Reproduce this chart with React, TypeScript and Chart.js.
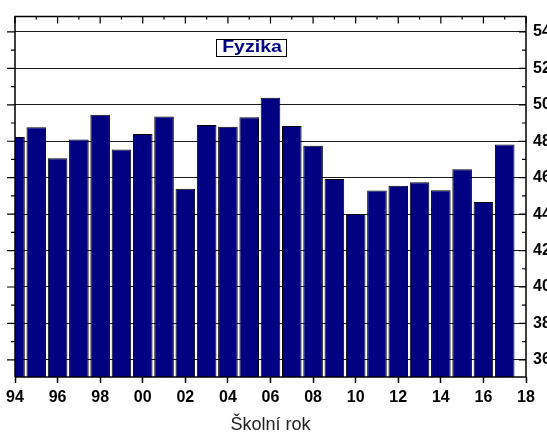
import React, { useEffect, useRef } from "react";
import { Chart, registerables } from "chart.js";

Chart.register(...registerables);

const years = [1994, 1995, 1996, 1997, 1998, 1999, 2000, 2001, 2002, 2003, 2004, 2005, 2006, 2007, 2008, 2009, 2010, 2011, 2012, 2013, 2014, 2015, 2016, 2017];
const values = [48.23, 48.77, 47.07, 48.09, 49.46, 47.54, 48.39, 49.36, 45.39, 48.89, 48.79, 49.32, 50.39, 48.84, 47.75, 45.93, 44.0, 45.29, 45.55, 45.75, 45.31, 46.46, 44.66, 47.82];
const xTickValues = [1994, 1996, 1998, 2000, 2002, 2004, 2006, 2008, 2010, 2012, 2014, 2016, 2018];
const xMinorTicks = [1995, 1997, 1999, 2001, 2003, 2005, 2007, 2009, 2011, 2013, 2015, 2017];
const yTickValues = [36, 38, 40, 42, 44, 46, 48, 50, 52, 54];
const yMinorTicks = [37, 39, 41, 43, 45, 47, 49, 51, 53];
const xTitle = "Školní rok";
const boxLabel = "Fyzika";

const FONT = 'Arial, "Liberation Sans", sans-serif';

const framePlugin = {
  id: "frameTicks",
  afterDatasetsDraw(chart: any) {
    const { ctx, chartArea } = chart;
    const xs = chart.scales.x;
    const ys = chart.scales.y;
    const { left, right, top, bottom } = chartArea;
    ctx.save();
    ctx.strokeStyle = "#000";
    ctx.lineWidth = 1.5;
    ctx.beginPath();
    ctx.moveTo(left, bottom);
    ctx.lineTo(left, top);
    ctx.lineTo(right, top);
    ctx.lineTo(right, bottom);
    ctx.lineTo(left, bottom);
    ctx.stroke();
    ctx.lineWidth = 1.2;
    ctx.beginPath();
    for (const v of xTickValues) {
      const px = xs.getPixelForValue(v);
      ctx.moveTo(px, top);
      ctx.lineTo(px, top + 7);
    }
    for (const v of xMinorTicks) {
      const px = xs.getPixelForValue(v);
      ctx.moveTo(px, top);
      ctx.lineTo(px, top + 3);
    }
    for (const v of yTickValues) {
      const py = ys.getPixelForValue(v);
      ctx.moveTo(left, py);
      ctx.lineTo(left - 8, py);
    }
    for (const v of yMinorTicks) {
      const py = ys.getPixelForValue(v);
      ctx.moveTo(left, py);
      ctx.lineTo(left - 4, py);
    }
    for (const v of yTickValues) {
      const py = ys.getPixelForValue(v);
      ctx.moveTo(right, py);
      ctx.lineTo(right - 7, py);
    }
    for (const v of yMinorTicks) {
      const py = ys.getPixelForValue(v);
      ctx.moveTo(right, py);
      ctx.lineTo(right - 4, py);
    }
    ctx.stroke();

    const bx0 = xs.getPixelForValue(2003.45);
    const bx1 = xs.getPixelForValue(2006.72);
    const by0 = ys.getPixelForValue(53.6);
    const by1 = ys.getPixelForValue(52.68);
    ctx.fillStyle = "#fff";
    ctx.fillRect(bx0, by0, bx1 - bx0, by1 - by0);
    ctx.lineWidth = 1;
    ctx.strokeStyle = "#000";
    ctx.strokeRect(Math.round(bx0) + 0.5, Math.round(by0) + 0.5, Math.round(bx1 - bx0), Math.round(by1 - by0));
    ctx.fillStyle = "#000080";
    ctx.font = `bold 16px ${FONT}`;
    ctx.textAlign = "center";
    ctx.textBaseline = "middle";
    ctx.translate((bx0 + bx1) / 2 + 1, (by0 + by1) / 2 + 0.5);
    ctx.scale(1.22, 1);
    ctx.fillText(boxLabel, 0, 0);
    ctx.restore();
  },
};

export default function App() {
  const ref = useRef<HTMLCanvasElement | null>(null);
  useEffect(() => {
    if (!ref.current) return;
    const chart = new Chart(ref.current, {
      type: "bar",
      data: {
        datasets: [
          {
            data: years.map((x, i) => ({ x, y: values[i] })),
            backgroundColor: "#000080",
            borderColor: "#000",
            borderWidth: 1,
            barPercentage: 0.92,
            categoryPercentage: 1,
            clip: 0,
          } as any,
        ],
      },
      options: {
        animation: false,
        responsive: false,
        maintainAspectRatio: false,
        layout: { padding: { left: 15, top: 9, right: 0, bottom: 0 } },
        plugins: { legend: { display: false }, tooltip: { enabled: false } },
        scales: {
          x: {
            type: "linear",
            min: 1994,
            max: 2018,
            offset: false,
            position: "bottom",
            afterBuildTicks: (s: any) => {
              s.ticks = xTickValues.map((v) => ({ value: v }));
            },
            afterFit: (s: any) => {
              s.height = 66;
            },
            ticks: {
              callback: (v: any) => String(Number(v) % 100).padStart(2, "0"),
              font: { family: FONT, size: 16, weight: "bold" },
              color: "#000",
              padding: 5,
              maxRotation: 0,
              autoSkip: false,
            },
            grid: {
              offset: false,
              drawOnChartArea: false,
              drawTicks: true,
              tickLength: 6,
              tickColor: "#000",
              tickWidth: 1.5,
            },
            border: { display: false },
            title: {
              display: true,
              text: xTitle,
              font: { family: FONT, size: 18 },
              color: "#222",
              padding: { top: 0, bottom: 7 },
            },
          },
          y: {
            type: "linear",
            position: "right",
            min: 35.06,
            max: 54.84,
            afterBuildTicks: (s: any) => {
              s.ticks = yTickValues.map((v) => ({ value: v }));
            },
            afterFit: (s: any) => {
              s.width = 21;
            },
            ticks: {
              font: { family: FONT, size: 16, weight: "bold" },
              color: "#000",
              padding: 7,
              crossAlign: "near",
            },
            grid: { color: "#1a1a1a", lineWidth: 1, drawTicks: false },
            border: { display: false },
          },
        },
      } as any,
      plugins: [framePlugin],
    });
    return () => chart.destroy();
  }, []);
  return (
    <div style={{ position: "absolute", left: 0, top: 0, width: 547, height: 443, background: "#fff" }}>
      <canvas ref={ref} width={547} height={443} style={{ display: "block", width: 547, height: 443 }} />
    </div>
  );
}
